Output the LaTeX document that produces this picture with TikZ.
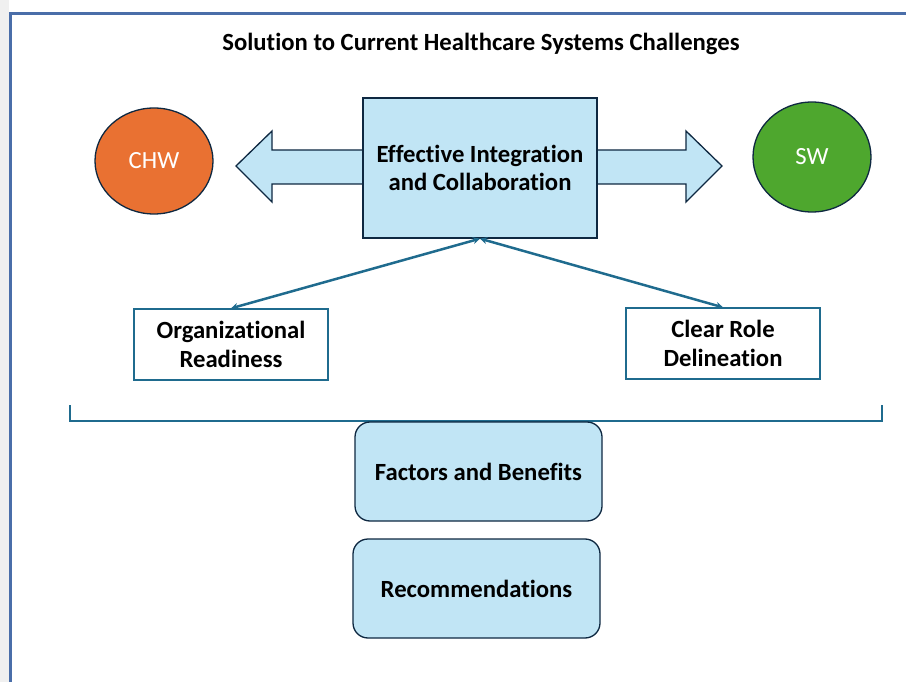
\documentclass[tikz,border=0pt]{standalone}
\usepackage{fontspec}
\setmainfont{Carlito}[Ligatures=NoCommon]
\usetikzlibrary{shapes.geometric,arrows.meta}
\definecolor{frameblue}{HTML}{4A6EA9}
\definecolor{lightblue}{HTML}{C1E5F5}
\definecolor{darkline}{HTML}{0E2841}
\definecolor{teal}{HTML}{1F6B8E}
\definecolor{chworange}{HTML}{E97132}
\definecolor{swgreen}{HTML}{4EA72E}
\tikzset{
  bluebox/.style={draw=darkline, fill=lightblue, line width=1.3pt, align=center, inner sep=0pt},
  plainbox/.style={draw=teal, fill=white, line width=1.3pt, align=center, inner sep=0pt, minimum width=194pt, minimum height=71pt, font=\fontsize{24.7}{29}\selectfont\bfseries},
  roundbox/.style={bluebox, rounded corners=15pt, minimum width=247pt, minimum height=99pt, font=\fontsize{24.7}{29}\selectfont\bfseries},
  person/.style={ellipse, draw=darkline, line width=1.3pt, inner sep=0pt, text=white, font=\fontsize{24.7}{29}\selectfont},
  link/.style={teal, line width=2.5pt, {Stealth[length=7pt,width=7pt]}-{Stealth[length=7pt,width=7pt]}}
}
\begin{document}
\begin{tikzpicture}[x=1pt,y=-1pt]
\useasboundingbox (0,0) rectangle (906,682);
\fill[gray!12] (0,0) rectangle (9,682);
\draw[frameblue, line width=3.5pt] (10.5,682) -- (10.5,13.5) -- (906,13.5);
\node[font=\fontsize{24.7}{29}\selectfont\bfseries] (title) at (481,44) {Solution to Current Healthcare Systems Challenges};
\node[person, fill=chworange, minimum width=118pt, minimum height=106pt] (chw) at (154,161) {CHW};
\node[person, fill=swgreen, minimum width=118pt, minimum height=110pt] (sw) at (812,157) {SW};
\draw[bluebox] (236,166) -- (272,131) -- (272,150) -- (686,150) -- (686,131) -- (722,166) -- (686,202) -- (686,184) -- (272,184) -- (272,202) -- cycle;
\node[bluebox, minimum width=234pt, minimum height=140pt, font=\fontsize{24.7}{28.5}\selectfont\bfseries] (eic) at (480,168) {Effective Integration\\and Collaboration};
\node[plainbox] (org) at (231,344.5) {Organizational\\Readiness};
\node[plainbox] (crd) at (723,343.5) {Clear Role\\Delineation};
\draw[link] (org.north) -- (eic.south);
\draw[link] (crd.north) -- (eic.south);
\coordinate (bl) at (70,405);
\coordinate (br) at (882,405);
\draw[teal, line width=1.4pt] (bl) -- (70,421) -- (882,421) -- (br);
\node[roundbox] (fb) at (478.5,471.5) {Factors and Benefits};
\node[roundbox] (rec) at (476.5,588.5) {Recommendations};
\end{tikzpicture}
\end{document}
